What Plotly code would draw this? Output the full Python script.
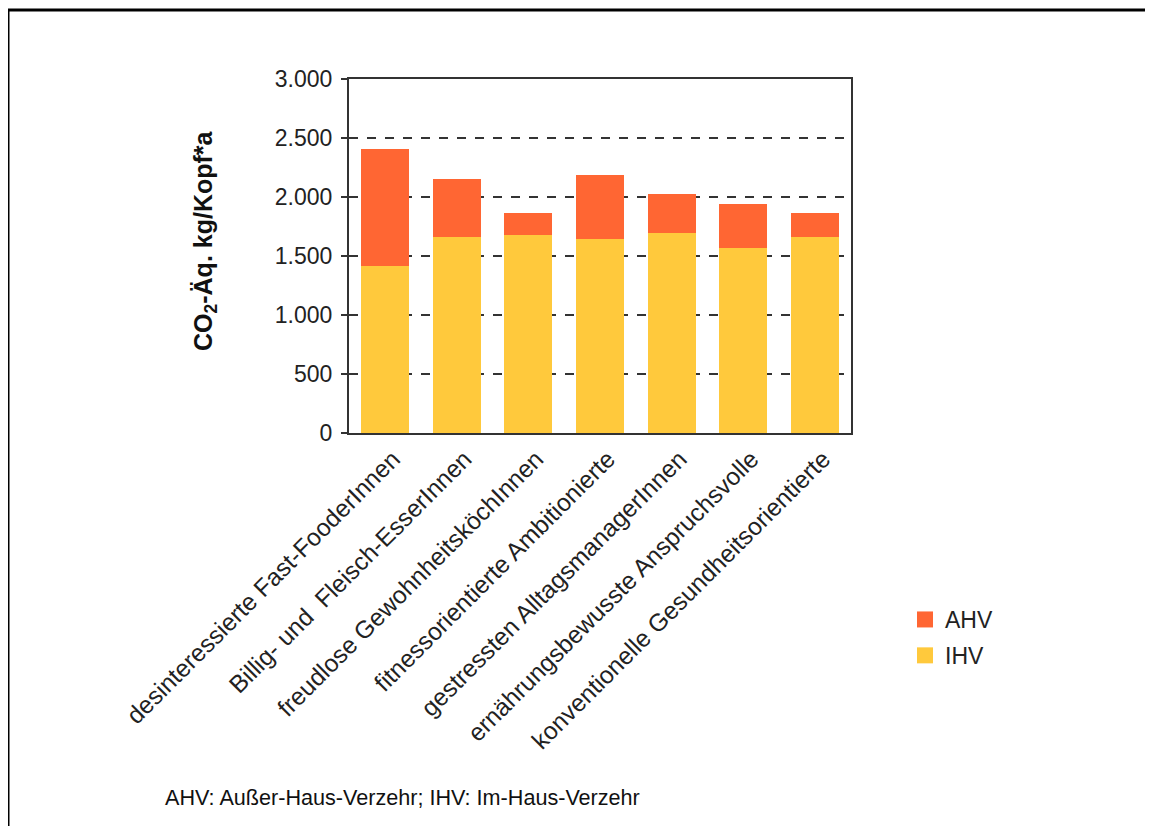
import plotly.graph_objects as go

categories = [
    "desinteressierte Fast-FooderInnen",
    "Billig- und  Fleisch-EsserInnen",
    "freudlose GewohnheitsköchInnen",
    "fitnessorientierte Ambitionierte",
    "gestressten AlltagsmanagerInnen",
    "ernährungsbewusste Anspruchsvolle",
    "konventionelle Gesundheitsorientierte",
]
ihv = [1413, 1658, 1675, 1644, 1692, 1565, 1658]
ahv_total = [2404, 2153, 1867, 2184, 2025, 1943, 1867]
ahv = [t - i for t, i in zip(ahv_total, ihv)]
tick_vals = [0, 500, 1000, 1500, 2000, 2500, 3000]
tick_text = ["0", "500", "1.000", "1.500", "2.000", "2.500", "3.000"]

FONT = "Liberation Sans, Arial, sans-serif"
C_AHV = "#FF6633"
C_IHV = "#FFC93C"

# page has an 8px body margin; work in figure coordinates = screen - 8
OFF = 8
W, H = 1153 - OFF, 826 - OFF
L, R, T, B = 349 - OFF, 851 - OFF, 79 - OFF, 433 - OFF
pw, ph = R - L, B - T

def px(x):
    return (x - OFF - L) / pw

def py(y):
    return (B - (y - OFF)) / ph

fig = go.Figure()
fig.add_trace(go.Bar(x=categories, y=ihv, name="IHV", marker_color=C_IHV,
                     marker_line_width=0, showlegend=False))
fig.add_trace(go.Bar(x=categories, y=ahv, name="AHV", marker_color=C_AHV,
                     marker_line_width=0, showlegend=False))
# legend entries (square swatches)
fig.add_trace(go.Scatter(x=[None], y=[None], mode="markers", name="AHV",
                         marker=dict(symbol="square", size=18, color=C_AHV),
                         legendgroup="a"))
fig.add_trace(go.Scatter(x=[None], y=[None], mode="markers", name="IHV",
                         marker=dict(symbol="square", size=18, color=C_IHV),
                         legendgroup="b"))

fig.update_layout(
    width=W, height=H,
    barmode="stack", bargap=0.33,
    plot_bgcolor="white", paper_bgcolor="white",
    margin=dict(l=L, r=W - R, t=T, b=H - B, pad=0),
    font=dict(family=FONT, size=22, color="#222"),
    showlegend=True,
    legend=dict(x=px(905), y=py(598), xanchor="left", yanchor="top",
                traceorder="grouped", font=dict(size=23), itemsizing="trace",
                bgcolor="rgba(0,0,0,0)", itemwidth=30, tracegroupgap=3),
    xaxis=dict(tickangle=-45, showline=True, linecolor="#333", linewidth=2,
               mirror=True, ticks="", showgrid=False, ticklabelshift=8,
               tickfont=dict(size=24.5, color="#222")),
    yaxis=dict(range=[0, 3000], tickvals=tick_vals, ticktext=tick_text,
               showline=True, linecolor="#333", linewidth=2, mirror=True,
               ticks="outside", ticklen=6, tickcolor="#333", tickwidth=2,
               ticklabelstandoff=4,
               showgrid=True, gridcolor="#333", gridwidth=2, griddash="dash",
               zeroline=False, tickfont=dict(size=23, color="#222")),
)

fig.add_annotation(text="<b>CO<sub>2</sub>-Äq. kg/Kopf*a</b>", xref="paper", yref="paper",
                   x=px(205), y=py(241), textangle=-90, showarrow=False,
                   font=dict(size=25, color="#111"), xanchor="center", yanchor="middle")
fig.add_annotation(text="AHV: Außer-Haus-Verzehr; IHV: Im-Haus-Verzehr", xref="paper", yref="paper",
                   x=px(163), y=py(797), showarrow=False, xanchor="left", yanchor="middle",
                   font=dict(size=21.6, color="#111"))

# outer frame (top and left edges)
fig.add_shape(type="line", xref="paper", yref="paper", x0=px(8), x1=px(1170), y0=py(10), y1=py(10),
              line=dict(color="black", width=3))
fig.add_shape(type="line", xref="paper", yref="paper", x0=px(8), x1=px(8), y0=py(10), y1=py(840),
              line=dict(color="black", width=3))

fig.write_html("out.html")
